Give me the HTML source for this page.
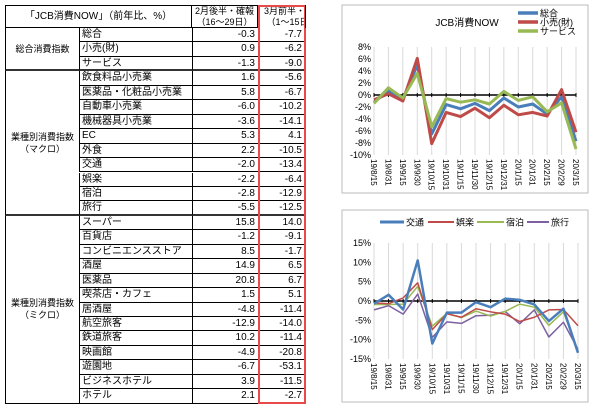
<!DOCTYPE html>
<html><head><meta charset="utf-8">
<style>
body{margin:0;width:600px;height:408px;background:#fff;overflow:hidden;font-family:"Liberation Sans","Noto Sans CJK JP",sans-serif;}
#tbl{position:absolute;left:0;top:0;width:310px;height:408px;}
.c{position:absolute;font-size:10px;line-height:14px;color:#000;white-space:nowrap;box-sizing:border-box;}
svg text{font-family:"Liberation Sans","Noto Sans CJK JP",sans-serif;}
</style></head><body>
<div id="tbl"></div>
<svg id="ch" width="600" height="408" style="position:absolute;left:0;top:0"></svg>
<script>
const names=["総合","小売(財)","サービス","飲食料品小売業","医薬品・化粧品小売業","自動車小売業","機械器具小売業","EC","外食","交通","娯楽","宿泊","旅行","スーパー","百貨店","コンビニエンスストア","酒屋","医薬品","喫茶店・カフェ","居酒屋","航空旅客","鉄道旅客","映画館","遊園地","ビジネスホテル","ホテル"];
const febVals=["-0.3","0.9","-1.3","1.6","5.8","-6.0","-3.6","5.3","2.2","-2.0","-2.2","-2.8","-5.5","15.8","-1.2","8.5","14.9","20.8","1.5","-4.8","-12.9","10.2","-4.9","-6.7","3.9","2.1"];
const marVals=["-7.7","-6.2","-9.0","-5.6","-6.7","-10.2","-14.1","4.1","-10.5","-13.4","-6.4","-12.9","-12.5","14.0","-9.1","-1.7","6.5","6.7","5.1","-11.4","-14.0","-11.4","-20.8","-53.1","-11.5","-2.7"];
const T=document.getElementById('tbl');
const RH=14.45,Y0=28,X=[5,79,192,258,305];
function cell(l,t,w,h,txt,name,css){const d=document.createElement('div');d.className='c';d.style.left=l+'px';d.style.top=t+'px';d.style.width=w+'px';d.style.height=h+'px';if(css)d.style.cssText+=css;d.innerHTML=txt;


T.appendChild(d);return d;}
cell(X[0],5,X[2]-X[0],23,"「JCB消費NOW」（前年比、%）","table-header-title","border:1px solid #000;text-align:center;line-height:22px;");
cell(X[2],5,X[3]-X[2],23,"2月後半・確報<br>（16～29日）","header-feb","border:1px solid #000;border-left:none;text-align:center;line-height:11px;font-size:9px;");
cell(X[3],5,X[4]-X[3],23,"3月前半・速報<br>&nbsp;（1～15日）","header-mar","border-top:1px solid #000;text-align:left;padding-left:6px;overflow:hidden;line-height:11px;font-size:9px;");
const groups=[["総合消費指数",0,3],["業種別消費指数<br>（マクロ）",3,10],["業種別消費指数<br>（ミクロ）",13,13]];
groups.forEach((g,i)=>{const t=Y0+g[1]*RH,h=g[2]*RH;cell(X[0],t,X[1]-X[0],h,g[0],"group-label-"+i,"border-left:1px solid #000;border-bottom:"+(i<2?"2px solid #333":"1px solid #000")+";display:flex;align-items:center;justify-content:center;text-align:center;line-height:12px;font-size:9px;");});
for(let i=0;i<names.length;i++){const t=Y0+i*RH;const thick=(i==2||i==12);
const bb=thick?"2px solid #333":"1px solid #000";
cell(X[1],t,X[2]-X[1],RH,names[i],"row-name-"+i,"border-left:1px solid #000;border-bottom:"+bb+";padding-left:2px;font-size:10px;line-height:14px;");
cell(X[2],t,X[3]-X[2],RH,febVals[i],"feb-value-"+i,"border-left:1px solid #000;border-bottom:"+bb+";text-align:right;padding-right:3px;");
cell(X[3],t,X[4]-X[3],RH,marVals[i],"mar-value-"+i,"border-bottom:"+bb+";text-align:right;padding-right:3px;");}
const rb=cell(X[3],5,X[4]-X[3]+1,Y0+26*RH-5,"","march-highlight-box","border:2px solid #e84a4a;");
const rb2=cell(X[4],5,1,23,"","header-right-border","background:#000;");

/* charts */
const dates=["19/8/15","19/8/31","19/9/15","19/9/30","19/10/15","19/10/31","19/11/15","19/11/30","19/12/15","19/12/31","20/1/15","20/1/31","20/2/15","20/2/29","20/3/15"];
const sogo=[-1.2,0.7,-0.7,5.0,-6.5,-1.6,-2.3,-1.4,-2.6,-0.5,-2.0,-1.5,-3.2,-0.3,-7.7];
const kouri=[-0.8,0.2,-1.0,6.1,-8.1,-2.9,-3.6,-2.2,-3.8,-1.7,-3.3,-2.9,-3.5,0.9,-6.2];
const service=[-1.4,1.2,-0.5,3.6,-5.3,-0.6,-1.2,-0.8,-1.5,0.6,-0.9,-0.3,-2.8,-1.3,-9.0];
const koutsu=[-0.7,1.6,-2.2,10.5,-11.0,-3.0,-3.0,-0.3,-1.6,0.6,0.3,-0.9,-5.2,-2.0,-13.4];
const goraku=[-0.5,-0.7,0.8,4.7,-7.4,-3.3,-4.2,-2.0,-2.8,-3.4,-5.3,-4.2,-2.3,-2.2,-6.4];
const shukuhaku=[-0.9,-0.9,-0.8,3.8,-6.5,-3.2,-4.3,-2.6,-3.9,-2.7,-0.8,-1.6,-6.3,-2.8,-12.9];
const ryokou=[-2.3,-1.2,-3.4,1.8,-9.4,-5.4,-5.8,-3.8,-3.7,-2.7,-5.9,-2.3,-9.3,-5.5,-12.5];
const ticks1=[8,6,4,2,0,-2,-4,-6,-8,-10];
const ticks2=[15,10,5,0,-5,-10,-15];
const S=document.getElementById('ch');const NS="http://www.w3.org/2000/svg";
function el(tag,a,p){const e=document.createElementNS(NS,tag);for(const k in a)e.setAttribute(k,a[k]);(p||S).appendChild(e);return e;}
function chart(cfg){
 const g=el('g',{});
 
 
 const b=el('rect',{x:cfg.box[0],y:cfg.box[1],width:cfg.box[2],height:cfg.box[3],fill:'#fff',stroke:'#bbb','stroke-width':1},g);
 
 
 const [x0,x1,y0,y1,vmax,vmin]=cfg.plot;
 const xs=i=>x0+(x1-x0)*i/(dates.length-1);
 const ys=v=>y0+(vmax-v)/(vmax-vmin)*(y1-y0);
 dates.forEach((d,i)=>{const l=el('line',{x1:xs(i),x2:xs(i),y1:y0,y2:y1,stroke:'#d9d9d9','stroke-width':1},g);
 
 
 const t=el('text',{x:0,y:0,'font-size':8,transform:`translate(${xs(i)-3},${y1+4}) rotate(90)`},g);t.textContent=d;
 
 });
 cfg.ticks.forEach(v=>{const t=el('text',{x:x0-3,y:ys(v)+3,'font-size':9,'text-anchor':'end'},g);t.textContent=v+'%';
 
 });
 const z=el('line',{x1:x0,x2:x1,y1:ys(0),y2:ys(0),stroke:'#000','stroke-width':1.5},g);
 
 
 dates.forEach((d,i)=>{const tk=el('line',{x1:xs(i),x2:xs(i),y1:ys(0)-2,y2:ys(0)+2,stroke:'#000'},g);
 
 });
 cfg.series.forEach(s=>{const p=el('polyline',{points:s.data.map((v,i)=>xs(i)+','+ys(v)).join(' '),fill:'none',stroke:s.color,'stroke-width':s.w,'stroke-linejoin':'round'},g);
 
 
 const L=s.leg;const ll=el('line',{x1:L[0],x2:L[0]+L[2],y1:L[1],y2:L[1],stroke:s.color,'stroke-width':s.w+0.5},g);
 
 
 const lt=el('text',{x:L[0]+L[2]+2,y:L[1]+3.5,'font-size':9},g);lt.textContent=s.label;
 
 });
 if(cfg.title){const t=el('text',{x:cfg.title[0],y:cfg.title[1],'font-size':10,'text-anchor':'middle'},g);t.textContent=cfg.title[2];
 
 }
}
chart({name:'chart-jcb-overall',box:[342,5,246,188],plot:[374,576,47,155,8,-10],ticks:ticks1,title:[467,26,'JCB消費NOW'],
series:[{key:'sogo',label:'総合',data:sogo,color:'#4a7ebb',w:3,leg:[518,13,20]},
{key:'kouri',label:'小売(財)',data:kouri,color:'#be4b48',w:3,leg:[518,22,20]},
{key:'service',label:'サービス',data:service,color:'#98b954',w:3,leg:[518,31,20]}]});
chart({name:'chart-jcb-services',box:[342,210,246,192],plot:[374,578,243,359,15,-15],ticks:ticks2,
series:[{key:'ryokou',label:'旅行',data:ryokou,color:'#7d60a0',w:1.5,leg:[527,222,22]},
{key:'shukuhaku',label:'宿泊',data:shukuhaku,color:'#98b954',w:1.5,leg:[477,222,27]},
{key:'goraku',label:'娯楽',data:goraku,color:'#be4b48',w:1.5,leg:[428,222,26]},
{key:'koutsu',label:'交通',data:koutsu,color:'#4a7ebb',w:2.5,leg:[380,222,24]}]});
</script>
</body></html>
